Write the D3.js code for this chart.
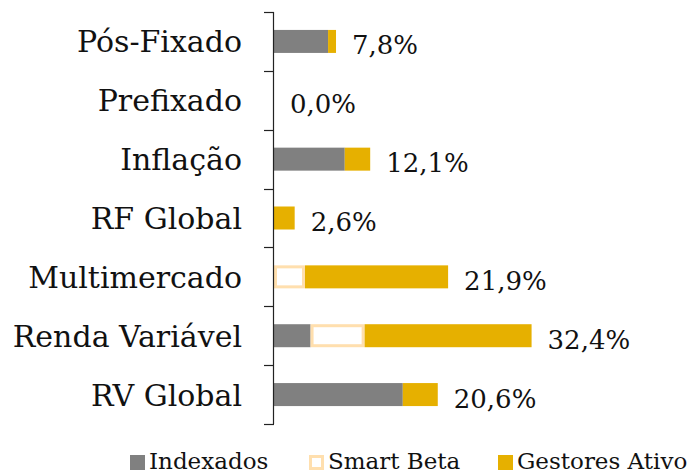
<!DOCTYPE html>
<html>
<head>
<meta charset="utf-8">
<script src="https://cdn.jsdelivr.net/npm/d3@7"></script>
<style>
  body { margin: 0; background: #fff; overflow: hidden; }
  text { font-family: "DejaVu Serif", serif; fill: #111; }
</style>
</head>
<body>
<script>
let w = 689;
let h = 470;

const categories = ["Pós-Fixado", "Prefixado", "Inflação", "RF Global", "Multimercado", "Renda Variável", "RV Global"];
const indexados = [6.8, 0, 8.9, 0, 0, 4.6, 16.2];
const smartBeta = [0, 0, 0, 0, 3.9, 6.8, 0];
const gestores = [1.0, 0, 3.2, 2.6, 18.0, 21.0, 4.4];
const totalLabels = ["7,8%", "0,0%", "12,1%", "2,6%", "21,9%", "32,4%", "20,6%"];
const seriesNames = ["Indexados", "Smart Beta", "Gestores Ativo"];

const colors = { "Indexados": "#808080", "Smart Beta": "#ffffff", "Gestores Ativo": "#e6b000" };
const sbStroke = "#ffdfae";

//create our svg
let svg = d3.select("body").append("svg").attr("width", w).attr("height", h);

let x = d3.scaleLinear().domain([0, 40]).range([274, 274 + 40 * 7.95]);
let y = d3.scaleBand().domain(categories).range([12, 424]).padding(0);

let rows = categories.map(function (c, i) {
  return { cat: c, Indexados: indexados[i], "Smart Beta": smartBeta[i], "Gestores Ativo": gestores[i] };
});
let stacked = d3.stack().keys(seriesNames)(rows);

let barH = 23;

//bars
stacked.forEach(function (layer) {
  let key = layer.key;
  svg.append("g")
    .selectAll("rect")
    .data(layer.filter(function (d) { return d[1] - d[0] > 0; }))
    .enter()
    .append("rect")
    .attr("x", function (d) { return x(d[0]) + (key === "Smart Beta" ? 1.5 : 0); })
    .attr("y", function (d) { return y(d.data.cat) + y.bandwidth() / 2 - barH / 2 + (key === "Smart Beta" ? 1.5 : 0); })
    .attr("width", function (d) { return x(d[1]) - x(d[0]) - (key === "Smart Beta" ? 3 : 0); })
    .attr("height", key === "Smart Beta" ? barH - 3 : barH)
    .attr("fill", colors[key])
    .attr("stroke", key === "Smart Beta" ? sbStroke : "none")
    .attr("stroke-width", 3);
});

//axis line and ticks at band edges
let axis = svg.append("g");
axis.append("line")
  .attr("x1", 273.5).attr("x2", 273.5)
  .attr("y1", 12).attr("y2", 424)
  .attr("stroke", "#222").attr("stroke-width", 1.2);
let edges = categories.map(function (c) { return y(c); }).concat([y.range()[1]]);
axis.selectAll("line.tick")
  .data(edges)
  .enter()
  .append("line")
  .attr("class", "tick")
  .attr("x1", 264).attr("x2", 274)
  .attr("y1", function (d) { return Math.round(d) + 0.5; })
  .attr("y2", function (d) { return Math.round(d) + 0.5; })
  .attr("stroke", "#222").attr("stroke-width", 1.2);

//category labels
svg.append("g")
  .selectAll("text")
  .data(categories)
  .enter()
  .append("text")
  .text(function (d) { return d; })
  .attr("x", 242)
  .attr("y", function (d) { return y(d) + y.bandwidth() / 2 + 11; })
  .attr("font-size", 30)
  .attr("text-anchor", "end");

//value labels
svg.append("g")
  .selectAll("text")
  .data(rows)
  .enter()
  .append("text")
  .text(function (d, i) { return totalLabels[i]; })
  .attr("x", function (d, i) { return x(indexados[i] + smartBeta[i] + gestores[i]) + 16; })
  .attr("y", function (d) { return y(d.cat) + y.bandwidth() / 2 + 13; })
  .attr("font-size", 26);

//legend
let legendX = [130, 309, 498];
let legend = svg.append("g")
  .selectAll("g")
  .data(seriesNames)
  .enter()
  .append("g")
  .attr("transform", function (d, i) { return "translate(" + legendX[i] + ",0)"; });
legend.append("rect")
  .attr("x", function (d) { return d === "Smart Beta" ? 1.5 : 0; })
  .attr("y", function (d) { return d === "Smart Beta" ? 456.5 : 455; })
  .attr("width", function (d) { return d === "Smart Beta" ? 12 : 15; })
  .attr("height", function (d) { return d === "Smart Beta" ? 12 : 15; })
  .attr("fill", function (d) { return colors[d]; })
  .attr("stroke", function (d) { return d === "Smart Beta" ? sbStroke : "none"; })
  .attr("stroke-width", 3);
legend.append("text")
  .text(function (d) { return d; })
  .attr("x", 19)
  .attr("y", 469)
  .attr("font-size", 23);
</script>
</body>
</html>
